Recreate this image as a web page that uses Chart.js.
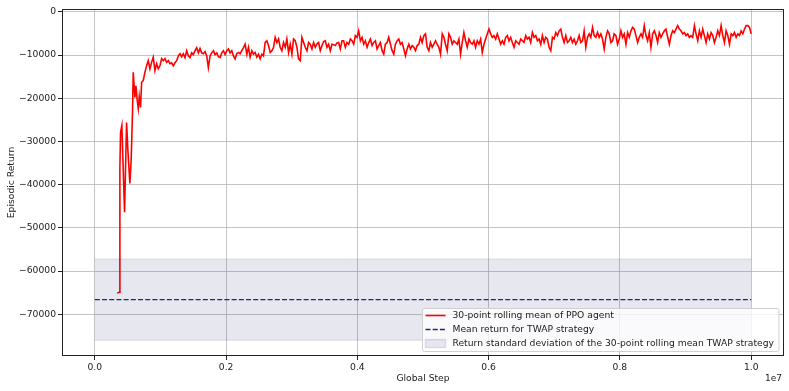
<!DOCTYPE html>
<html>
<head>
<meta charset="utf-8">
<script src="https://cdn.jsdelivr.net/npm/chart.js@4.4.0/dist/chart.umd.min.js"></script>
<style>
  html, body { margin: 0; padding: 0; background: #fff; }
  #chart { display: block; }
</style>
</head>
<body>
<canvas id="chart" width="789" height="391"></canvas>
<script>
// global step (in thousands) of each rolling-mean point
const stepsK = [
  340, 371, 382, 392, 412, 453, 484, 504, 534, 554,
  575, 585, 611, 626, 646, 662, 677, 697, 713, 738,
  763, 789, 814, 840, 865, 890, 916, 941, 967, 992,
  1018, 1043, 1069, 1094, 1120, 1145, 1170, 1196, 1221, 1247,
  1272, 1298, 1323, 1349, 1374, 1400, 1425, 1450, 1476, 1501,
  1527, 1552, 1578, 1603, 1629, 1654, 1679, 1705, 1730, 1756,
  1781, 1807, 1832, 1858, 1883, 1908, 1934, 1959, 1985, 2010,
  2036, 2061, 2087, 2112, 2137, 2163, 2188, 2214, 2239, 2265,
  2290, 2316, 2341, 2366, 2392, 2417, 2443, 2468, 2494, 2519,
  2545, 2570, 2595, 2621, 2646, 2672, 2697, 2723, 2748, 2774,
  2799, 2824, 2850, 2875, 2901, 2926, 2952, 2977, 3003, 3028,
  3053, 3079, 3104, 3130, 3155, 3181, 3206, 3232, 3257, 3282,
  3308, 3333, 3359, 3384, 3410, 3435, 3461, 3486, 3511, 3537,
  3562, 3588, 3613, 3639, 3664, 3690, 3715, 3740, 3766, 3791,
  3817, 3842, 3868, 3893, 3919, 3944, 3969, 3995, 4020, 4046,
  4071, 4097, 4122, 4148, 4173, 4198, 4224, 4249, 4275, 4300,
  4326, 4351, 4377, 4402, 4427, 4453, 4478, 4504, 4529, 4555,
  4580, 4606, 4631, 4656, 4682, 4707, 4733, 4758, 4784, 4809,
  4835, 4860, 4885, 4911, 4936, 4962, 4987, 5013, 5038, 5064,
  5089, 5114, 5140, 5165, 5191, 5216, 5242, 5267, 5293, 5318,
  5343, 5369, 5394, 5420, 5445, 5471, 5496, 5522, 5547, 5572,
  5598, 5623, 5649, 5674, 5700, 5725, 5751, 5776, 5801, 5827,
  5852, 5878, 5903, 5929, 5954, 5980, 6005, 6031, 6056, 6081,
  6107, 6132, 6158, 6183, 6209, 6234, 6260, 6285, 6310, 6336,
  6361, 6387, 6412, 6438, 6463, 6489, 6514, 6539, 6565, 6590,
  6616, 6641, 6667, 6692, 6718, 6743, 6768, 6794, 6819, 6845,
  6870, 6896, 6921, 6947, 6972, 6997, 7023, 7048, 7074, 7099,
  7125, 7150, 7176, 7201, 7226, 7252, 7277, 7303, 7328, 7354,
  7379, 7405, 7430, 7455, 7481, 7506, 7532, 7557, 7583, 7608,
  7634, 7659, 7684, 7710, 7735, 7761, 7786, 7812, 7837, 7863,
  7888, 7913, 7939, 7964, 7990, 8015, 8041, 8066, 8092, 8117,
  8142, 8168, 8193, 8219, 8244, 8270, 8295, 8321, 8346, 8371,
  8397, 8422, 8448, 8473, 8499, 8524, 8550, 8575, 8600, 8626,
  8651, 8677, 8702, 8728, 8753, 8779, 8804, 8829, 8855, 8880,
  8906, 8931, 8957, 8982, 9008, 9033, 9058, 9084, 9109, 9135,
  9160, 9186, 9211, 9237, 9262, 9287, 9313, 9338, 9364, 9389,
  9415, 9440, 9466, 9491, 9516, 9542, 9567, 9593, 9618, 9644,
  9669, 9695, 9720, 9745, 9771, 9796, 9822, 9847, 9873, 9898,
  9924, 9949, 9975, 10000
];

// 30-point rolling mean of the PPO agent's episodic return
const ppoReturns = [
  -65100, -64900, -36000, -27900, -26300, -46400, -25600, -32100, -39700, -34400,
  -22800, -14000, -19800, -17100, -20500, -22400, -19600, -22100, -16300, -15900,
  -14000, -12500, -11300, -13200, -11700, -10500, -13600, -12000, -13200, -12500,
  -10800, -11300, -10800, -11700, -11300, -12000, -11800, -12500, -11800, -11300,
  -10200, -9700, -10400, -9700, -10600, -9000, -10200, -10600, -9500, -9900,
  -9000, -8300, -9500, -8500, -9500, -9700, -9200, -10200, -12900, -10200,
  -9500, -9000, -9900, -9500, -10400, -10600, -9500, -9000, -9900, -9000,
  -8600, -9500, -9000, -10200, -10900, -9700, -9400, -9700, -9000, -8300,
  -7500, -9800, -8200, -10500, -9000, -9800, -9400, -10500, -9800, -10900,
  -9800, -10200, -7100, -6700, -7800, -9400, -9000, -8200, -5900, -7100,
  -6300, -8200, -9000, -7100, -8200, -6300, -9400, -7500, -9800, -6300,
  -6700, -8200, -10900, -11300, -5900, -7100, -8200, -9000, -7100, -7500,
  -8600, -7100, -8200, -7400, -7100, -9000, -7800, -6900, -6700, -8200,
  -7500, -9000, -7500, -7600, -7800, -7200, -7100, -8600, -6700, -6700,
  -8200, -7100, -7500, -6300, -6700, -7500, -5500, -5900, -4400, -6700,
  -5900, -7500, -6700, -8200, -7100, -6300, -7800, -7100, -6700, -8600,
  -7800, -7100, -9000, -9800, -7500, -7100, -5900, -7500, -9000, -9800,
  -7500, -6700, -6300, -7500, -7100, -8600, -10200, -8600, -7500, -8600,
  -7800, -8200, -9000, -7800, -7500, -5900, -7100, -5500, -5100, -8200,
  -9000, -7100, -8200, -7500, -6700, -7500, -8200, -9800, -5100, -5900,
  -7500, -9000, -5100, -5900, -7500, -6700, -7100, -7500, -6300, -9800,
  -7100, -4800, -6700, -8200, -6300, -7100, -7500, -6700, -8200, -6700,
  -7500, -6300, -9400, -7500, -6300, -5100, -4000, -5100, -5900, -5500,
  -6300, -5100, -6300, -7500, -6700, -7500, -5900, -5500, -6700, -5900,
  -7100, -8200, -6700, -7100, -7500, -6300, -6700, -7100, -5500, -6300,
  -5900, -7100, -4800, -5900, -5500, -6700, -6300, -7500, -5500, -7100,
  -5900, -6300, -8200, -9000, -5900, -6300, -4800, -5500, -4400, -4000,
  -5900, -7100, -5500, -7100, -6700, -5900, -7100, -6300, -7500, -6700,
  -5500, -7100, -6700, -4400, -8200, -5900, -5100, -5900, -3600, -5500,
  -5900, -4800, -5900, -5100, -6300, -8600, -5900, -4400, -5100, -7100,
  -6700, -5100, -5500, -7500, -6300, -4400, -5900, -5100, -7500, -4800,
  -5900, -4400, -3600, -4000, -5500, -7100, -5900, -5100, -5900, -3200,
  -5500, -6700, -4800, -8200, -5100, -4400, -5500, -7100, -4800, -5900,
  -5100, -4400, -4000, -5900, -7500, -5500, -4400, -4800, -4000, -3200,
  -4000, -4400, -5100, -4800, -5500, -5100, -5900, -5500, -5900, -3200,
  -5100, -6700, -4400, -5900, -4000, -5500, -7100, -5100, -6300, -4800,
  -5500, -7100, -5900, -4400, -5500, -3200, -5500, -7100, -4400, -5500,
  -7500, -5100, -5500, -4800, -5900, -5100, -5500, -4400, -5100, -4000,
  -3200, -3200, -3600, -5100
];

// TWAP baseline
const twapSteps = [0, 10000000];
const twapMean = -66600;
const twapStd = 9400;

// axis ticks
const xTickValues = [0, 2000000, 4000000, 6000000, 8000000, 10000000];
const yTickValues = [0, -10000, -20000, -30000, -40000, -50000, -60000, -70000];

const labels = {
  ppo: '30-point rolling mean of PPO agent',
  mean: 'Mean return for TWAP strategy',
  band: 'Return standard deviation of the 30-point rolling mean TWAP strategy'
};

const FONT = '"DejaVu Sans", sans-serif';
const TEXT = '#1a1a1a';
const BAND_FILL = 'rgba(25, 25, 112, 0.105)';
const BAND_EDGE = 'rgba(25, 25, 112, 0.12)';
const NAVY = '#25256f';
const GRID = 'rgba(176,176,176,0.75)';

const ppoData = stepsK.map((s, i) => ({ x: s * 1000, y: ppoReturns[i] }));
const lowData = twapSteps.map(s => ({ x: s, y: twapMean - twapStd }));
const highData = twapSteps.map(s => ({ x: s, y: twapMean + twapStd }));
const meanData = twapSteps.map(s => ({ x: s, y: twapMean }));

// frame on all four sides, like matplotlib spines
const framePlugin = {
  id: 'frame',
  afterDatasetsDraw(chart) {
    const { ctx, chartArea: a } = chart;
    ctx.save();
    ctx.strokeStyle = '#222';
    ctx.lineWidth = 1;
    ctx.strokeRect(Math.round(a.left) + 0.5, Math.round(a.top) + 0.5,
      Math.round(a.right - a.left) - 1, Math.round(a.bottom - a.top) - 1);
    ctx.restore();
  }
};

// legend in the lower-right corner of the plot + the "1e7" offset text
const insideLegend = {
  id: 'insideLegend',
  afterDraw(chart) {
    const { ctx, chartArea: a } = chart;
    const ds = chart.data.datasets;
    const items = [
      { ds: ds[3], kind: 'line' },
      { ds: ds[2], kind: 'line' },
      { ds: ds[1], kind: 'patch' }
    ];
    ctx.save();
    ctx.font = '9.2px ' + FONT;
    const textW = Math.max(...items.map(it => ctx.measureText(it.ds.label).width));
    const rowH = 14;
    const w = 30 + textW + 5;
    const h = items.length * rowH + 1;
    const x0 = Math.round(a.right - 6 - w) + 0.5;
    const y0 = Math.round(a.bottom - 5 - h) + 0.5;

    ctx.fillStyle = 'rgba(255,255,255,0.8)';
    ctx.strokeStyle = '#d0d0d0';
    ctx.lineWidth = 1;
    ctx.beginPath();
    ctx.roundRect(x0, y0, w, h, 2);
    ctx.fill();
    ctx.stroke();

    items.forEach((it, i) => {
      const cy = y0 + 7 + i * rowH;
      if (it.kind === 'line') {
        ctx.strokeStyle = it.ds.borderColor;
        ctx.lineWidth = it.ds.borderWidth;
        ctx.setLineDash(it.ds.borderDash || []);
        ctx.beginPath();
        ctx.moveTo(x0 + 3, cy);
        ctx.lineTo(x0 + 23, cy);
        ctx.stroke();
        ctx.setLineDash([]);
      } else {
        ctx.fillStyle = it.ds.backgroundColor;
        ctx.fillRect(x0 + 3, cy - 4, 20, 8);
        ctx.strokeStyle = it.ds.borderColor;
        ctx.strokeRect(x0 + 3, cy - 4, 20, 8);
      }
      ctx.fillStyle = TEXT;
      ctx.textAlign = 'left';
      ctx.textBaseline = 'middle';
      ctx.fillText(it.ds.label, x0 + 30, cy + 0.5);
    });

    ctx.font = '9px ' + FONT;
    ctx.textAlign = 'right';
    ctx.textBaseline = 'middle';
    ctx.fillText('1e7', a.right - 2, 379);
    ctx.restore();
  }
};

new Chart(document.getElementById('chart').getContext('2d'), {
  type: 'line',
  data: {
    datasets: [
      {
        label: '',
        data: lowData,
        borderColor: BAND_EDGE,
        borderWidth: 1,
        pointRadius: 0,
        fill: false
      },
      {
        label: labels.band,
        data: highData,
        borderColor: BAND_EDGE,
        backgroundColor: BAND_FILL,
        borderWidth: 1,
        pointRadius: 0,
        fill: '-1'
      },
      {
        label: labels.mean,
        data: meanData,
        borderColor: NAVY,
        borderWidth: 1.4,
        borderDash: [5, 2.2],
        pointRadius: 0,
        fill: false
      },
      {
        label: labels.ppo,
        data: ppoData,
        borderColor: '#ff0000',
        borderWidth: 1.6,
        pointRadius: 0,
        tension: 0,
        fill: false
      }
    ]
  },
  options: {
    responsive: false,
    animation: false,
    events: [],
    layout: { padding: { top: 9, right: 5, left: 0, bottom: 0 } },
    plugins: {
      legend: { display: false },
      tooltip: { enabled: false }
    },
    scales: {
      x: {
        type: 'linear',
        min: -500000,
        max: 10500000,
        afterFit: s => { s.height = 35; },
        afterBuildTicks: s => { s.ticks = xTickValues.map(v => ({ value: v })); },
        border: { display: false },
        grid: { color: GRID, lineWidth: 1, tickLength: 4, tickColor: '#222' },
        ticks: {
          maxRotation: 0,
          autoSkip: false,
          padding: 2,
          color: TEXT,
          font: { family: FONT, size: 9.2 },
          callback: v => (v / 1e7).toFixed(1)
        },
        title: {
          display: true,
          text: 'Global Step',
          color: TEXT,
          font: { family: FONT, size: 9.2 },
          padding: { top: 0, bottom: 7 }
        }
      },
      y: {
        min: -79650,
        max: 650,
        afterFit: s => { s.width = 62; },
        afterBuildTicks: s => { s.ticks = yTickValues.map(v => ({ value: v })); },
        border: { display: false },
        grid: { color: GRID, lineWidth: 1, tickLength: 4, tickColor: '#222' },
        ticks: {
          autoSkip: false,
          padding: 2,
          color: TEXT,
          font: { family: FONT, size: 9.2 },
          callback: v => (v < 0 ? '\u2212' + Math.abs(v) : String(v))
        },
        title: {
          display: true,
          text: 'Episodic Return',
          color: TEXT,
          font: { family: FONT, size: 9.2 },
          padding: { top: 6, bottom: 0 }
        }
      }
    }
  },
  plugins: [framePlugin, insideLegend]
});
</script>
</body>
</html>
